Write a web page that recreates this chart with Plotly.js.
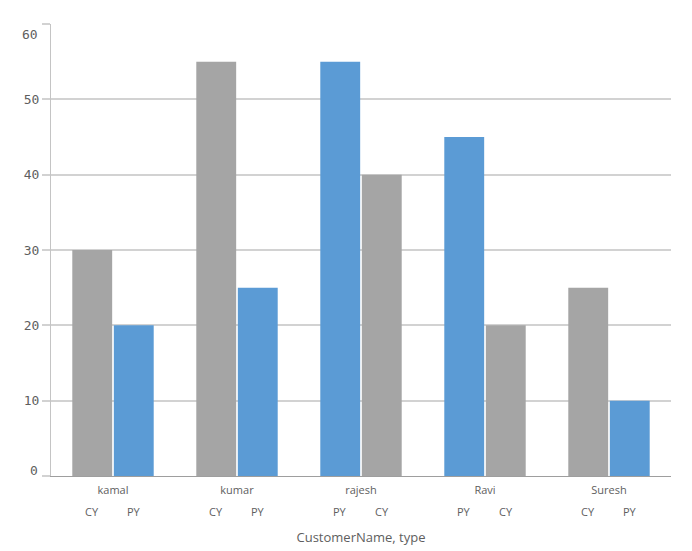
<!DOCTYPE html>
<html>
<head>
<meta charset="utf-8">
<script src="https://cdn.plot.ly/plotly-3.0.1.min.js"></script>
<style>html,body{margin:0;padding:0;background:#fff;}#chart{width:692px;height:551px;}</style>
</head>
<body>
<div id="chart"></div>
<script>
const customers = ['kamal', 'kumar', 'rajesh', 'Ravi', 'Suresh'];
const leftTypes = ['CY', 'CY', 'PY', 'PY', 'CY'];
const leftValues = [30, 55, 55, 45, 25];
const rightTypes = ['PY', 'PY', 'CY', 'CY', 'PY'];
const rightValues = [20, 25, 40, 20, 10];
const yTicks = [0, 10, 20, 30, 40, 50, 60];
const typeColors = { CY: '#a5a5a5', PY: '#5b9bd5' };

const W = 692, H = 551;
const margin = { l: 51, r: 21, t: 24, b: 75, pad: 0 };
const bargap = 0.33, bargroupgap = 0.04;
const plotW = W - margin.l - margin.r;
const catPx = plotW / customers.length;
const slotPx = catPx * (1 - bargap) / 2;

const textColor = '#5e5e5e';
const sansFont = 'Open Sans, Noto Sans, sans-serif';
const monoFont = 'DejaVu Sans Mono, monospace';

const traces = [
  { type: 'bar', x: customers, y: leftValues, customdata: leftTypes,
    marker: { color: leftTypes.map(t => typeColors[t]) },
    hovertemplate: '%{x}, %{customdata}: %{y}<extra></extra>' },
  { type: 'bar', x: customers, y: rightValues, customdata: rightTypes,
    marker: { color: rightTypes.map(t => typeColors[t]) },
    hovertemplate: '%{x}, %{customdata}: %{y}<extra></extra>' }
];

const annotations = [];
customers.forEach((c, i) => {
  [[leftTypes[i], -slotPx / 2], [rightTypes[i], slotPx / 2]].forEach(([t, dx]) => {
    annotations.push({ x: c, xref: 'x', y: 0, yref: 'paper', xshift: dx, yshift: -35.5,
      yanchor: 'middle', xanchor: 'center', showarrow: false, text: t,
      font: { family: sansFont, size: 11, color: textColor } });
  });
});
// end labels kept inside the plot like the original
[[yTicks[0], 6], [yTicks[yTicks.length - 1], -10]].forEach(([v, dy]) => {
  annotations.push({ x: 0, xref: 'paper', y: v, yref: 'y', xshift: -11, yshift: dy,
    xanchor: 'right', yanchor: 'middle', showarrow: false, text: String(v),
    font: { family: monoFont, size: 13, color: textColor } });
});

const layout = {
  width: W, height: H, margin: margin,
  paper_bgcolor: '#fff', plot_bgcolor: '#fff',
  barmode: 'group', bargap: bargap, bargroupgap: bargroupgap,
  showlegend: false,
  xaxis: {
    type: 'category', showgrid: false, zeroline: false,
    showline: true, linecolor: '#9e9e9e', linewidth: 1,
    ticks: '', ticklabelstandoff: 4,
    tickfont: { family: sansFont, size: 11, color: textColor },
    title: { text: 'CustomerName, type', standoff: 36,
      font: { family: sansFont, size: 13, color: textColor } },
    fixedrange: true
  },
  yaxis: {
    range: [0, 60], tickvals: yTicks,
    ticktext: yTicks.map((v, i) => (i === 0 || i === yTicks.length - 1) ? '' : String(v)),
    showgrid: true, gridcolor: '#d2d2d2', gridwidth: 2,
    zeroline: false, showline: true, linecolor: '#c4c4c4', linewidth: 1,
    ticks: 'outside', ticklen: 8, tickcolor: '#d2d2d2', tickwidth: 2,
    tickfont: { family: monoFont, size: 13, color: textColor },
    fixedrange: true
  },
  annotations: annotations
};

Plotly.newPlot('chart', traces, layout, { displayModeBar: false, staticPlot: true });
</script>
</body>
</html>
